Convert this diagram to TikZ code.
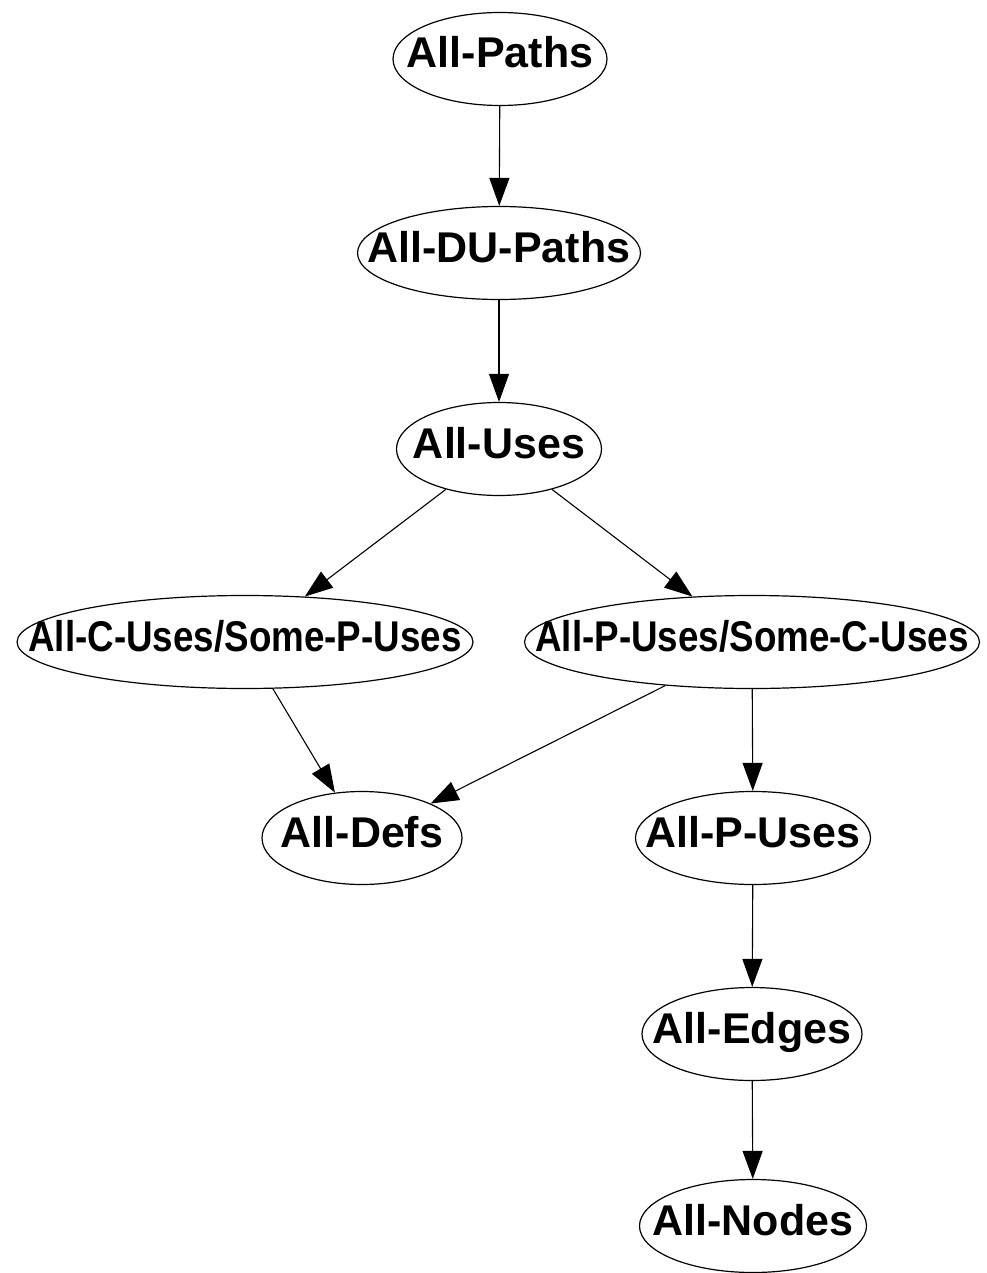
\documentclass[tikz,border=0pt]{standalone}
\usepackage{fontspec}
\setmainfont{Liberation Sans}
\usetikzlibrary{shapes.geometric,arrows.meta}
\begin{document}
\begin{tikzpicture}[x=1pt,y=-1pt,
  state/.style={ellipse, draw=black, line width=1.2pt, inner sep=0pt, minimum height=93pt},
  lbl/.style={font=\fontsize{43}{52}\selectfont\bfseries, inner sep=0pt, text height=31pt, text depth=13pt},
  dep/.style={-{Triangle[length=28pt,width=20pt]}, line width=1.1pt}]
\path[use as bounding box, fill=white] (0,0) rectangle (986,1273);

% coverage criteria
\node[state, minimum width=214pt, label={[lbl]center:All-Paths}] (ap) at (500,59) {};
\node[state, minimum width=283pt, label={[lbl]center:All-DU-Paths}] (adu) at (499,253) {};
\node[state, minimum width=205pt, label={[lbl]center:All-Uses}] (au) at (499,449) {};
\node[state, minimum width=456pt, label={[lbl]center:{\scalebox{0.855}[1]{All-C-Uses/Some-P-Uses}}}] (acu) at (245,642) {};
\node[state, minimum width=455pt, label={[lbl]center:{\scalebox{0.855}[1]{All-P-Uses/Some-C-Uses}}}] (apc) at (752,642) {};
\node[state, minimum width=200pt, label={[lbl]center:All-Defs}] (ad) at (362,838) {};
\node[state, minimum width=235pt, label={[lbl]center:All-P-Uses}] (apu) at (753,838) {};
\node[state, minimum width=220pt, label={[lbl]center:All-Edges}] (ae) at (752,1034) {};
\node[state, minimum width=227pt, label={[lbl]center:All-Nodes}] (an) at (753,1226) {};

% subsumption
\draw[dep] (ap) -- (adu);
\draw[dep] (adu) -- (au);
\draw[dep] (au) -- (acu);
\draw[dep] (au) -- (apc);
\draw[dep] (acu) -- (ad);
\draw[dep] (apc) -- (ad);
\draw[dep] (apc) -- (apu);
\draw[dep] (apu) -- (ae);
\draw[dep] (ae) -- (an);
\end{tikzpicture}
\end{document}
